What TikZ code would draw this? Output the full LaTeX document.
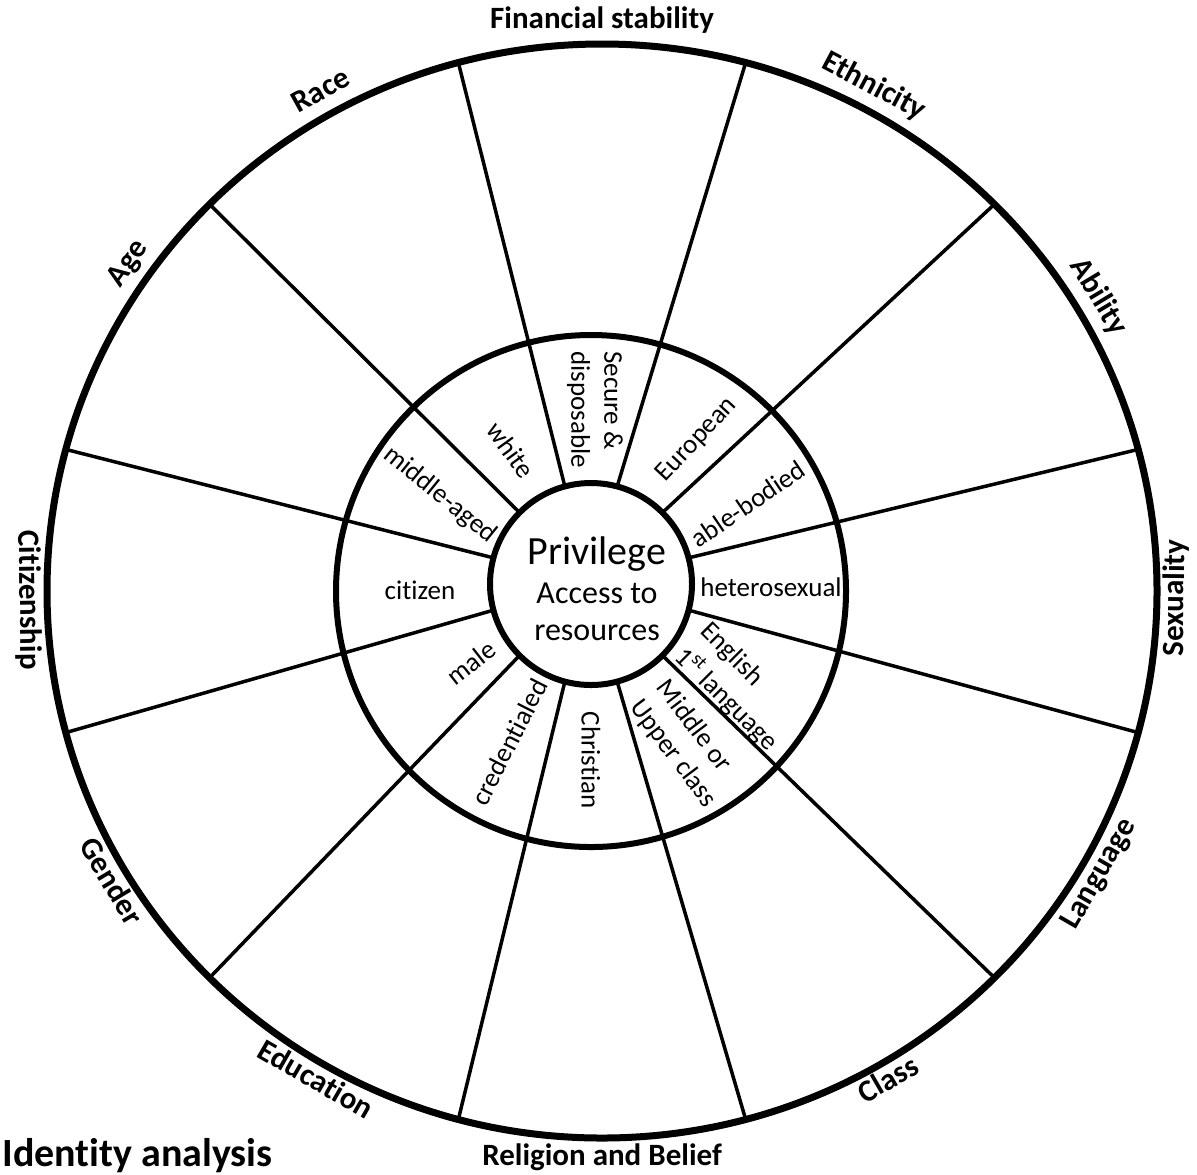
\documentclass[tikz,border=0pt]{standalone}
\usepackage{fontspec}
\setmainfont{Carlito}[Ligatures={NoCommon,NoRequired,NoContextual}]
\usetikzlibrary{calc}
\begin{document}
\begin{tikzpicture}[x=0.5pt,y=-0.5pt,line join=round,
  outerlbl/.style={font=\bfseries\fontsize{15.5}{18}\selectfont,anchor=base,inner sep=0pt},
  innerlbl/.style={font=\fontsize{13.5}{16}\selectfont,inner sep=0pt},
  twoline/.style={innerlbl,anchor=west,align=left,font=\fontsize{13.5}{16.5}\selectfont},
  centretxt/.style={anchor=base,inner sep=0pt},
  spoke/.style={line width=1.75pt}]
\useasboundingbox (0,0) rectangle (1197,1174);
\coordinate (oc) at (602,591);
\coordinate (ic) at (591,584);
\coordinate (mc) at (591,591);
% spokes
\foreach \a in {15,45,...,345} {
  \coordinate (si\a) at ($(ic)+({101*cos(\a)},{-101*sin(\a)})$);
  \coordinate (so\a) at ($(oc)+({555*cos(\a)},{-547*sin(\a)})$);
  \draw[spoke] (si\a) -- (so\a);
}
% rings
\draw[line width=3.5pt] (oc) ellipse [x radius=555, y radius=547];
\draw[line width=3pt] (mc) ellipse [x radius=255, y radius=256];
\draw[line width=3pt] (ic) circle [radius=101];
% outer labels, tops outward
\foreach \a/\t in {90/Financial stability,62/Ethnicity,31/Ability,145/Age,119/Race} {
  \node[outerlbl,rotate=\a-90] (ol\a) at ($(oc)+({571*cos(\a)},{-563*sin(\a)})$) {\t};
}
% outer labels, tops inward
\foreach \a/\t in {-0.7/Sexuality,330/Language,300/Class,270/Religion and Belief,240/Education,211/Gender,180.9/Citizenship} {
  \node[outerlbl,rotate=\a+90] (ol\a) at ($(oc)+({582*cos(\a)},{-574*sin(\a)})$) {\t};
}
% centre
\node[centretxt,font=\fontsize{20}{24}\selectfont] (priv) at (597,564) {Privilege};
\node[centretxt,font=\fontsize{16}{19}\selectfont] (acc) at (597,603) {Access to};
\node[centretxt,font=\fontsize{16}{19}\selectfont] (res) at (597,640) {resources};
% inner labels
\node[twoline,rotate=-90] (secure) at (595,351) {Secure \&\\disposable};
\node[innerlbl,rotate=-54] (white) at (511,450) {white};
\node[innerlbl,rotate=-39] (midage) at (440,495) {middle-aged};
\node[innerlbl] (citizen) at (420,590) {citizen};
\node[innerlbl,rotate=38] (male) at (471,663) {male};
\node[innerlbl,rotate=63] (cred) at (509,742) {credentialed};
\node[innerlbl,rotate=-90] (christ) at (591,760) {Christian};
\node[twoline,rotate=-53] (classl) at (648,693) {Middle or\\Upper class};
\node[twoline,rotate=-45,font=\fontsize{13.5}{18}\selectfont] (engl) at (691,640) {English\\1\textsuperscript{st} language};
\node[innerlbl] (hetero) at (771,587) {heterosexual};
\node[innerlbl,rotate=34] (able) at (748,504) {able-bodied};
\node[innerlbl,rotate=47] (euro) at (697,440) {European};
% title
\node[font=\bfseries\fontsize{20}{24}\selectfont,anchor=base west,inner sep=0pt] (title) at (2,1166) {Identity analysis};
\end{tikzpicture}
\end{document}
